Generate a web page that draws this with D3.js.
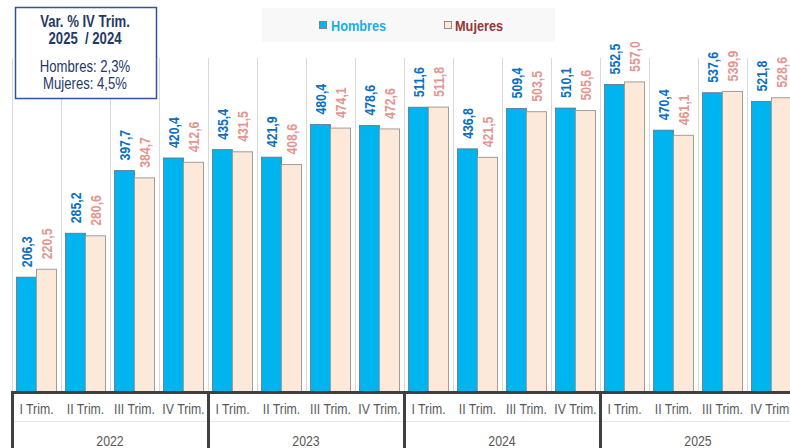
<!DOCTYPE html>
<html>
<head>
<meta charset="utf-8">
<script src="https://d3js.org/d3.v7.min.js"></script>
<style>
  html, body { margin: 0; padding: 0; background: #ffffff; }
  svg { display: block; font-family: 'Liberation Sans Narrow', 'Arial Narrow', 'Liberation Sans', Arial, sans-serif; }
</style>
</head>
<body>
<div id="chart"></div>
<script>
// Ocupados por sexo, trimestral 2022-2025
const years = ['2022', '2023', '2024', '2025'];
const quarters = ['I Trim.', 'II Trim.', 'III Trim.', 'IV Trim.'];
const hombres = [206.3, 285.2, 397.7, 420.4, 435.4, 421.9, 480.4, 478.6, 511.6, 436.8, 509.4, 510.1, 552.5, 470.4, 537.6, 521.8];
const mujeres = [220.5, 280.6, 384.7, 412.6, 431.5, 408.6, 474.1, 472.6, 511.8, 421.5, 503.5, 505.6, 557.0, 461.1, 539.9, 528.6];
const varHombres = '2,3%';
const varMujeres = '4,5%';

const width = 790;
const height = 448;
const plotTop = 58, baseline = 392;
const narrow = 0.82; // no narrow font installed: squeeze text horizontally

const cats = [];
years.forEach(y => quarters.forEach(q => cats.push(y + '|' + q)));

const x = d3.scaleBand().domain(cats).range([12, 796]).padding(0);
const y = d3.scaleLinear().domain([0, 600]).range([baseline, plotTop]);
const fmt = v => d3.format('.1f')(v).replace('.', ',');

const svg = d3.select('#chart').append('svg')
    .attr('width', width)
    .attr('height', height);

// vertical gridlines at category boundaries
svg.append('g')
    .selectAll('line')
    .data(cats)
    .join('line')
    .attr('x1', d => Math.round(x(d)) + 0.5)
    .attr('x2', d => Math.round(x(d)) + 0.5)
    .attr('y1', plotTop)
    .attr('y2', baseline)
    .attr('stroke', '#d9d9d9')
    .attr('stroke-width', 1);

const bw = 20;
const off = (x.bandwidth() - 2 * bw) / 2;

const data = cats.map((c, i) => ({ c, h: hombres[i], m: mujeres[i] }));

// bars
svg.append('g')
    .selectAll('rect')
    .data(data)
    .join('rect')
    .attr('x', d => x(d.c) + off)
    .attr('y', d => y(d.h))
    .attr('width', bw)
    .attr('height', d => baseline - y(d.h))
    .attr('fill', '#00b4f0')
    .attr('stroke', '#5f7482')
    .attr('stroke-width', 0.8);

svg.append('g')
    .selectAll('rect')
    .data(data)
    .join('rect')
    .attr('x', d => x(d.c) + off + bw)
    .attr('y', d => y(d.m))
    .attr('width', bw)
    .attr('height', d => baseline - y(d.m))
    .attr('fill', '#fde9d9')
    .attr('stroke', '#a39d97')
    .attr('stroke-width', 1);

// value labels (rotated)
svg.append('g')
    .selectAll('text')
    .data(data)
    .join('text')
    .attr('transform', d => `translate(${x(d.c) + off + bw / 2},${y(d.h) - 10}) rotate(-90) scale(${narrow},1)`)
    .attr('dy', '0.36em')
    .style('font-size', '15px')
    .style('font-weight', '700')
    .style('fill', '#0a6fc2')
    .text(d => fmt(d.h));

svg.append('g')
    .selectAll('text')
    .data(data)
    .join('text')
    .attr('transform', d => `translate(${x(d.c) + off + bw * 1.5},${y(d.m) - 10}) rotate(-90) scale(${narrow},1)`)
    .attr('dy', '0.36em')
    .style('font-size', '15px')
    .style('font-weight', '700')
    .style('fill', '#e3968f')
    .text(d => fmt(d.m));

// x axis
const axis = svg.append('g');
axis.append('line')
    .attr('x1', 11).attr('x2', width)
    .attr('y1', baseline + 0.5).attr('y2', baseline + 0.5)
    .attr('stroke', '#404040').attr('stroke-width', 3);

axis.append('line')
    .attr('x1', 12).attr('x2', width)
    .attr('y1', 421.5).attr('y2', 421.5)
    .attr('stroke', '#e6e6e6').attr('stroke-width', 1);

axis.selectAll('.sep')
    .data(years.concat(['end']))
    .join('line')
    .attr('class', 'sep')
    .attr('x1', (d, i) => 12 + i * 4 * x.bandwidth() + 0.5)
    .attr('x2', (d, i) => 12 + i * 4 * x.bandwidth() + 0.5)
    .attr('y1', baseline)
    .attr('y2', height)
    .attr('stroke', '#404040')
    .attr('stroke-width', 3);

axis.selectAll('.q')
    .data(cats)
    .join('text')
    .attr('class', 'q')
    .attr('transform', d => `translate(${x(d) + x.bandwidth() / 2},414) scale(${narrow},1)`)
    .attr('text-anchor', 'middle')
    .style('font-size', '15px')
    .style('fill', '#595959')
    .text(d => d.split('|')[1]);

axis.selectAll('.yr')
    .data(years)
    .join('text')
    .attr('class', 'yr')
    .attr('transform', (d, i) => `translate(${12 + (i * 4 + 2) * x.bandwidth()},446) scale(${narrow},1)`)
    .attr('text-anchor', 'middle')
    .style('font-size', '15px')
    .style('fill', '#595959')
    .text(d => d);

// legend
const legend = svg.append('g');
legend.append('rect')
    .attr('x', 262).attr('y', 8).attr('width', 293).attr('height', 34)
    .attr('fill', '#f8f8f8');
legend.append('rect')
    .attr('x', 319.5).attr('y', 21.5).attr('width', 7).attr('height', 7)
    .attr('fill', '#00b4f0').attr('stroke', '#7f7f7f');
legend.append('text')
    .attr('transform', `translate(331,31) scale(0.85,1)`)
    .style('font-size', '15px').style('font-weight', '700').style('fill', '#1aaee6')
    .text('Hombres');
legend.append('rect')
    .attr('x', 444.5).attr('y', 21.5).attr('width', 7).attr('height', 7)
    .attr('fill', '#fde9d9').attr('stroke', '#8f8f8f');
legend.append('text')
    .attr('transform', `translate(455,31) scale(0.85,1)`)
    .style('font-size', '15px').style('font-weight', '700').style('fill', '#953735')
    .text('Mujeres');

// info box
const info = svg.append('g');
info.append('rect')
    .attr('x', 15.5).attr('y', 7.5).attr('width', 141).attr('height', 91)
    .attr('fill', '#ffffff').attr('stroke', '#2f5597').attr('stroke-width', 1.5);
const infoLines = [
    { t: 'Var. % IV Trim.', yy: 27, w: 700 },
    { t: '2025  / 2024', yy: 44, w: 700 },
    { t: 'Hombres: ' + varHombres, yy: 72, w: 400 },
    { t: 'Mujeres: ' + varMujeres, yy: 89, w: 400 }
];
info.selectAll('text')
    .data(infoLines)
    .join('text')
    .attr('transform', d => `translate(85,${d.yy}) scale(${narrow},1)`)
    .attr('text-anchor', 'middle')
    .style('font-size', '16px')
    .style('font-weight', d => d.w)
    .style('fill', '#1f3864')
    .style('white-space', 'pre')
    .text(d => d.t);
</script>
</body>
</html>
